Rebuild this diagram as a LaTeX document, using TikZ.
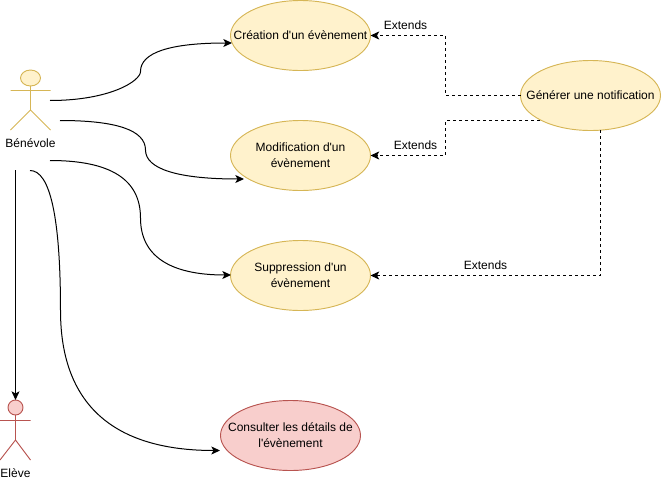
\documentclass[tikz,border=0pt]{standalone}
\usepackage{fontspec}
\setmainfont{Liberation Sans}[Ligatures=TeXOff]
\usetikzlibrary{arrows.meta,shapes.geometric}
\definecolor{yfill}{HTML}{FFF2CC}
\definecolor{ystroke}{HTML}{D6B656}
\definecolor{rfill}{HTML}{F8CECC}
\definecolor{rstroke}{HTML}{B85450}
\tikzset{
  usecase/.style={ellipse,draw,line width=0.7pt,minimum width=105pt,minimum height=52.5pt,inner xsep=-15pt,inner ysep=0pt,outer sep=0pt,align=center,font=\fontsize{9}{12}\selectfont},
  yuc/.style={usecase,draw=ystroke,fill=yfill},
  ruc/.style={usecase,draw=rstroke,fill=rfill},
  lbl/.style={inner sep=0pt,font=\fontsize{9}{12}\selectfont},
  assoc/.style={line width=0.75pt,-{Stealth[length=6.5pt,width=6pt,inset=1.6pt]}},
  ext/.style={assoc,dash pattern=on 2.25pt off 2.25pt},
  yact/.style={draw=ystroke,line width=0.7pt},
  ract/.style={draw=rstroke,line width=0.7pt}
}
\begin{document}
\begin{tikzpicture}[x=0.75pt,y=-0.75pt]
\useasboundingbox (0,0) rectangle (661,482);
% use cases
\node[yuc] (e1) at (300.5,35.5) {Création d'un évènement};
\node[yuc] (e2) at (300.5,155.5) {Modification d'un\\évènement};
\node[yuc] (e3) at (300.5,275.5) {Suppression d'un\\évènement};
\node[yuc] (gen) at (590.5,95.5) {Générer une notification};
\node[ruc] (e4) at (290.5,435.5) {Consulter les détails de\\l'évènement};
% actor Bénévole
\draw[yact,fill=yfill] (30.5,78) ellipse (10 and 8);
\draw[yact] (30.5,86) -- (30.5,110) (10.5,90.5) -- (50.5,90.5) (10.5,130) -- (30.5,110) -- (50.5,130);
\node[lbl] (ben) at (30.5,143.5) {Bénévole};
% actor Elève
\draw[ract,fill=rfill] (15.5,407.5) ellipse (7.5 and 7.5);
\draw[ract] (15.5,415) -- (15.5,440) (0,420.5) -- (30.5,420.5) (0,460) -- (15.5,440) -- (30.5,460);
\node[lbl] (ele) at (15.5,473.5) {Elève};
% free ends
\coordinate (s1) at (50,100.5);
\coordinate (s2) at (60,120.5);
\coordinate (s3) at (50,160.5);
\coordinate (s4) at (30,170.5);
\coordinate (s5) at (15.5,170);
\coordinate (t1) at (232,43);
\coordinate (t2) at (244,179);
\coordinate (t3) at (231,275);
\coordinate (t4) at (220,450.5);
\coordinate (t5) at (15.5,400);
\coordinate (j1) at (445.5,65);
\coordinate (j2) at (445.5,137);
\coordinate (g2) at (540,120.5);
\coordinate (g3) at (600,130);
% associations
\draw[assoc] (s1) .. controls (110,100.5) and (140.5,81) .. (140.5,71.5) .. controls (140.5,52.5) and (170,43) .. (t1);
\draw[assoc] (s2) .. controls (116,120.5) and (145.5,130) .. (145.5,150) .. controls (145.5,169) and (178,179) .. (t2);
\draw[assoc] (s3) .. controls (110,160.5) and (140.5,179) .. (140.5,218) .. controls (140.5,256) and (170,275) .. (t3);
\draw[assoc] (s4) .. controls (50,170.5) and (60.5,217) .. (60.5,310.5) .. controls (60.5,404) and (113,450.5) .. (t4);
\draw[assoc] (s5) -- (t5);
% extends
\draw[ext] (gen.west) -| (j1) |- (e1.east);
\draw[ext] (g2) -| (j2) |- (e2.east);
\draw[ext] (g3) |- (e3.east);
\node[lbl] (x1) at (405.5,25) {Extends};
\node[lbl] (x2) at (415.5,145) {Extends};
\node[lbl] (x3) at (485.5,265) {Extends};
\end{tikzpicture}
\end{document}
